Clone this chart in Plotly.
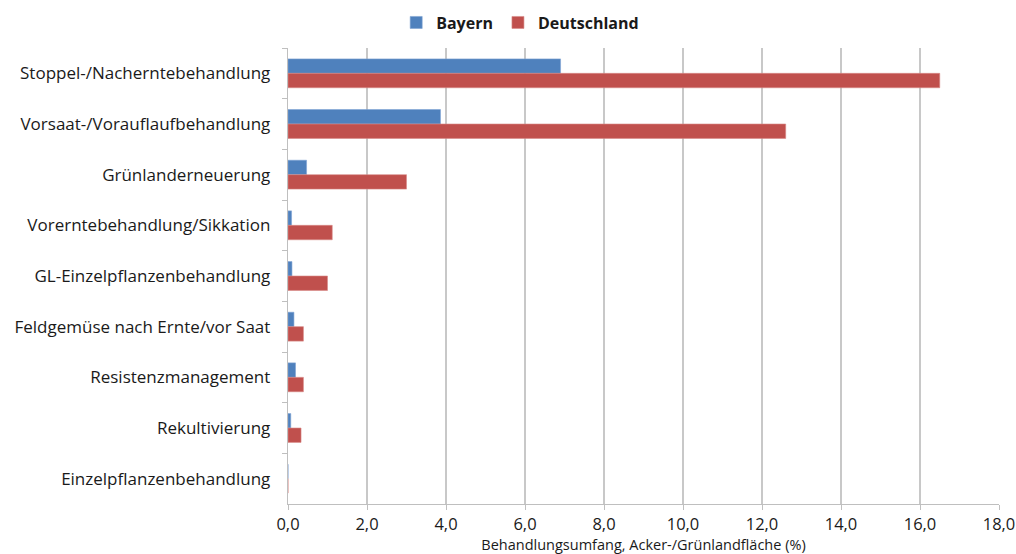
import plotly.graph_objects as go

categories = [
    "Stoppel-/Nacherntebehandlung",
    "Vorsaat-/Vorauflaufbehandlung",
    "Grünlanderneuerung",
    "Vorerntebehandlung/Sikkation",
    "GL-Einzelpflanzenbehandlung",
    "Feldgemüse nach Ernte/vor Saat",
    "Resistenzmanagement",
    "Rekultivierung",
    "Einzelpflanzenbehandlung",
]
bayern = [6.9, 3.86, 0.47, 0.09, 0.1, 0.15, 0.19, 0.07, 0.0]
deutschland = [16.5, 12.6, 3.0, 1.12, 1.0, 0.39, 0.39, 0.33, 0.0]
x_ticks = [0, 2, 4, 6, 8, 10, 12, 14, 16, 18]

font_family = "Open Sans, Liberation Sans, sans-serif"

fig = go.Figure()
fig.add_trace(go.Bar(
    y=categories, x=bayern, orientation="h", name="Bayern",
    marker=dict(color="#4F81BD", line=dict(color="#7FA3D3", width=0.6)),
))
fig.add_trace(go.Bar(
    y=categories, x=deutschland, orientation="h", name="Deutschland",
    marker=dict(color="#C0504D", line=dict(color="#D88A88", width=0.6)),
))

fig.update_layout(
    width=1016, height=554,
    margin=dict(l=288, r=17, t=48, b=50, autoexpand=False),
    paper_bgcolor="white", plot_bgcolor="white",
    barmode="group", bargap=0.43, bargroupgap=0,
    separators=",.",
    font=dict(family=font_family, size=14, color="#1a1a1a"),
    showlegend=True,
    legend=dict(
        orientation="h", x=0.512, xanchor="center", xref="container",
        y=0.99, yanchor="top", yref="container", traceorder="normal",
        font=dict(size=16, color="#1a1a1a", family="Open Sans, sans-serif", weight="bold"),
        itemwidth=30,
    ),
    xaxis=dict(
        range=[0, 18], tickvals=x_ticks, tickformat=".1f",
        automargin=False,
        showgrid=True, gridcolor="#C8C8C8", gridwidth=1.5,
        showline=True, linecolor="#BFBFBF", linewidth=1,
        ticks="outside", ticklen=5, tickcolor="#BFBFBF",
        zeroline=False,
        tickfont=dict(size=16.5, color="#1a1a1a"),
        title=dict(text="Behandlungsumfang, Acker-/Grünlandfläche (%)",
                   font=dict(size=14.5, color="#1a1a1a"), standoff=14),
    ),
    yaxis=dict(
        autorange="reversed", automargin=False,
        showline=True, linecolor="#BFBFBF", linewidth=1,
        ticks="outside", ticklen=5, tickcolor="#BFBFBF",
        tickson="boundaries",
        tickfont=dict(size=17, color="#1a1a1a"),
        ticksuffix="   ",
    ),
)

fig.write_html("out.html")
